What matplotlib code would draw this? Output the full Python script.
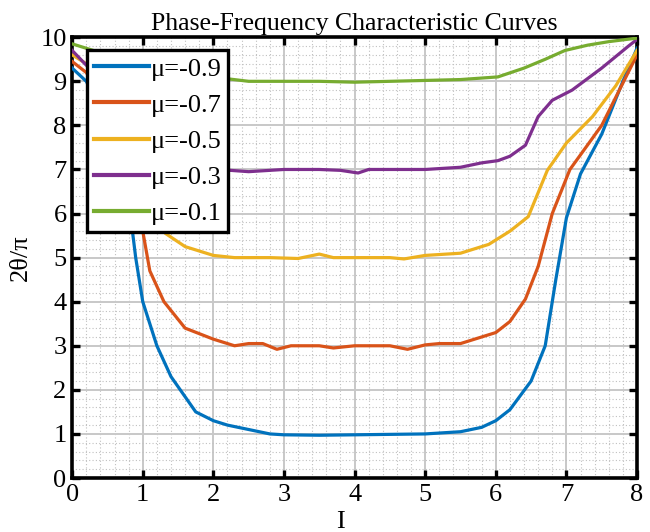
import matplotlib
matplotlib.use("Agg")
import matplotlib.pyplot as plt
from matplotlib.ticker import MultipleLocator

plt.rcParams['font.family'] = ['Liberation Serif', 'DejaVu Serif']

# data
labels = ['μ=-0.9', 'μ=-0.7', 'μ=-0.5', 'μ=-0.3', 'μ=-0.1']
colors = ['#0072BD', '#D95319', '#EDB120', '#7E2F8E', '#77AC30']

x_09 = [0, 0.2, 0.4, 0.6, 0.8, 0.9, 1.0, 1.2, 1.4, 1.75, 2.0, 2.2, 2.5, 2.8, 3.0, 3.5,
        4.0, 4.5, 5.0, 5.5, 5.8, 6.0, 6.2, 6.5, 6.7, 6.85, 7.0, 7.2, 7.5, 7.8, 8.0]
y_09 = [9.3, 9.0, 8.4, 7.5, 6.3, 5.0, 4.0, 3.0, 2.3, 1.5, 1.3, 1.2, 1.1, 1.0, 0.98, 0.97,
        0.98, 0.99, 1.0, 1.05, 1.15, 1.3, 1.55, 2.2, 3.0, 4.5, 5.9, 6.9, 7.8, 9.0, 9.75]

x_07 = [0, 0.2, 0.4, 0.6, 0.8, 1.0, 1.1, 1.3, 1.6, 2.0, 2.3, 2.5, 2.7, 2.9, 3.1, 3.5, 3.7,
        4.0, 4.5, 4.75, 5.0, 5.2, 5.5, 5.8, 6.0, 6.2, 6.42, 6.6, 6.8, 7.05, 7.5, 8.0]
y_07 = [9.45, 9.2, 8.7, 8.0, 7.0, 5.6, 4.7, 4.0, 3.4, 3.15, 3.0, 3.05, 3.05, 2.92, 3.0, 3.0, 2.95,
        3.0, 3.0, 2.92, 3.02, 3.05, 3.05, 3.2, 3.3, 3.55, 4.06, 4.8, 6.0, 7.0, 8.0, 9.6]

x_05 = [0, 0.2, 0.4, 0.6, 0.8, 1.0, 1.15, 1.32, 1.6, 2.0, 2.3, 2.8, 3.2, 3.5, 3.7, 4.0,
        4.5, 4.7, 5.0, 5.5, 5.9, 6.2, 6.46, 6.73, 7.0, 7.37, 7.7, 8.0]
y_05 = [9.6, 9.4, 9.0, 8.4, 7.6, 6.6, 6.0, 5.55, 5.25, 5.05, 5.0, 5.0, 4.98, 5.08, 5.0, 5.0,
        5.0, 4.97, 5.05, 5.1, 5.3, 5.6, 5.93, 6.98, 7.6, 8.2, 8.9, 9.7]

x_03 = [0, 0.3, 0.6, 1.0, 1.5, 2.0, 2.24, 2.5, 3.0, 3.5, 3.8, 4.05, 4.2, 4.5, 5.0, 5.5,
        5.8, 6.03, 6.2, 6.42, 6.6, 6.8, 7.08, 7.5, 7.88, 8.0]
y_03 = [9.7, 9.2, 8.6, 7.9, 7.3, 7.05, 6.98, 6.95, 7.0, 7.0, 6.98, 6.92, 7.0, 7.0, 7.0, 7.05,
        7.15, 7.2, 7.3, 7.55, 8.2, 8.57, 8.8, 9.3, 9.8, 9.95]

x_01 = [0, 0.3, 0.6, 1.0, 1.5, 2.0, 2.24, 2.5, 3.0, 3.5, 4.0, 4.5, 5.0, 5.5, 6.03, 6.4,
        6.7, 6.98, 7.3, 7.6, 8.0]
y_01 = [9.85, 9.7, 9.5, 9.3, 9.15, 9.08, 9.05, 9.0, 9.0, 9.0, 8.98, 9.0, 9.02, 9.04, 9.1, 9.3,
        9.5, 9.7, 9.82, 9.9, 9.98]

xs = [x_09, x_07, x_05, x_03, x_01]
ys = [y_09, y_07, y_05, y_03, y_01]

fig = plt.figure(figsize=(6.5, 5.32), dpi=100)
ax = fig.add_axes([0.111, 0.1015, 0.869, 0.8285])

for x, y, c, lab in zip(xs, ys, colors, labels):
    ax.plot(x, y, color=c, lw=2.3, label=lab, zorder=3)

ax.set_xlim(0, 8)
ax.set_ylim(0, 10)
ax.xaxis.set_major_locator(MultipleLocator(1))
ax.yaxis.set_major_locator(MultipleLocator(1))
ax.xaxis.set_minor_locator(MultipleLocator(0.2))
ax.yaxis.set_minor_locator(MultipleLocator(0.2))

# grid (the reference has a busy textured background)
ax.grid(which='major', color='#c8c8c8', lw=1.4, zorder=0)
ax.grid(which='minor', color='#c0c0c0', lw=0.8, ls=(0, (1, 2)), zorder=0)

ax.tick_params(which='major', direction='in', length=6, width=2.4, top=True, right=True,
               labelsize=19, pad=4)
ax.tick_params(which='minor', length=0)
for s in ax.spines.values():
    s.set_linewidth(2.6)

ax.set_title('Phase-Frequency Characteristic Curves', fontsize=18.5, pad=5)
ax.set_xlabel('I', fontsize=19)
ax.xaxis.set_label_coords(0.475, -0.075, transform=ax.transAxes)
ax.xaxis.label.set_va('top')
ax.set_ylabel('2θ/π', fontsize=19, labelpad=6)

leg = ax.legend(loc='upper left', bbox_to_anchor=(0.027, 0.97), borderaxespad=0,
                fontsize=19, handlelength=2.1, handletextpad=0.05, labelspacing=0.48,
                borderpad=0.25, fancybox=False, framealpha=1, edgecolor='black')
leg.get_frame().set_linewidth(2.4)
for h in leg.get_lines():
    h.set_linewidth(3.0)

fig.savefig('out.png', dpi=100)
